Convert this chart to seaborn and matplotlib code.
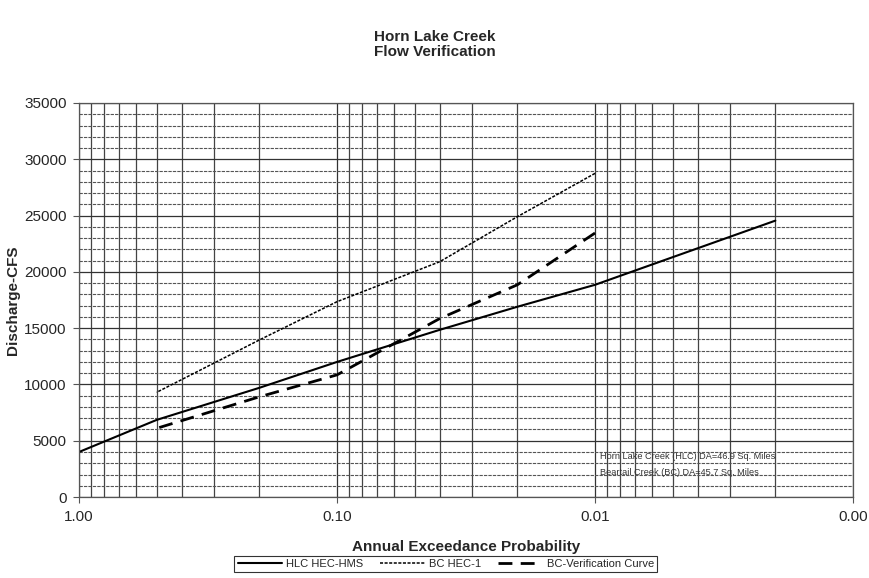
import numpy as np
import seaborn as sns
import matplotlib.pyplot as plt
import pandas as pd
from matplotlib.ticker import LogLocator, FuncFormatter, MultipleLocator

# annual exceedance probabilities
hlc_prob = [1.0, 0.5, 0.2, 0.1, 0.04, 0.02, 0.01, 0.002]
hlc_cfs = [4000, 6850, 9700, 12000, 14850, 16900, 18850, 24550]

bc_prob = [0.5, 0.2, 0.1, 0.04, 0.02, 0.01]
bc_hec1_cfs = [9300, 13950, 17350, 20900, 24900, 28750]
bc_verif_cfs = [6100, 8900, 10850, 15850, 18850, 23450]

hlc = pd.DataFrame({'prob': hlc_prob, 'cfs': hlc_cfs})
bc1 = pd.DataFrame({'prob': bc_prob, 'cfs': bc_hec1_cfs})
bcv = pd.DataFrame({'prob': bc_prob, 'cfs': bc_verif_cfs})

sns.set_style("white")
plt.rcParams['font.family'] = ['Liberation Sans', 'DejaVu Sans']

fig = plt.figure(figsize=(8.69, 5.78), dpi=100)
ax = fig.add_axes([0.0909, 0.1401, 0.8907, 0.6817])

sns.lineplot(x='prob', y='cfs', data=hlc, ax=ax, color='black', lw=1.5, label='HLC HEC-HMS')
sns.lineplot(x='prob', y='cfs', data=bc1, ax=ax, color='black', lw=1.1, dashes=False, label='BC HEC-1')
ax.lines[-1].set_dashes((2, 1))
sns.lineplot(x='prob', y='cfs', data=bcv, ax=ax, color='black', lw=2.0, label='BC-Verification Curve')
ax.lines[-1].set_dashes((5, 3))

ax.set_xscale('log')
ax.set_xlim(1.0, 0.001)
ax.set_ylim(0, 35000)
ax.xaxis.set_major_locator(LogLocator(base=10, numticks=10))
ax.xaxis.set_minor_locator(LogLocator(base=10, subs=np.arange(2, 10), numticks=20))
ax.xaxis.set_major_formatter(FuncFormatter(lambda v, p: '%.2f' % v))
ax.xaxis.set_minor_formatter(FuncFormatter(lambda v, p: ''))
ax.yaxis.set_major_locator(MultipleLocator(5000))
ax.yaxis.set_minor_locator(MultipleLocator(1000))

ax.grid(which='major', axis='both', color='#333333', lw=0.9, ls='-')
ax.grid(which='minor', axis='x', color='#444444', lw=0.9, ls='-')
ax.grid(which='minor', axis='y', color='#555555', lw=0.8, ls=(0, (3, 1)))
ax.set_axisbelow(True)

for s in ax.spines.values():
    s.set_color('#555555')
    s.set_linewidth(0.9)
ax.tick_params(axis='both', which='major', direction='out', length=4, width=0.8,
               color='#555555', labelsize=11, pad=5, bottom=True, left=True)
ax.tick_params(axis='both', which='minor', length=0)

ax.set_xlabel('Annual Exceedance Probability', fontsize=11, fontweight='bold')
ax.xaxis.set_label_coords(0.5, -0.108)
ax.set_ylabel('Discharge-CFS', fontsize=11, fontweight='bold')
ax.yaxis.set_label_coords(-0.076, 0.5)
fig.suptitle('Horn Lake Creek\nFlow Verification', x=0.5, y=0.948, fontsize=11,
             fontweight='bold', linespacing=1.1)

ax.text(0.00955, 3640, 'Horn Lake Creek (HLC) DA=46.9 Sq. Miles', fontsize=6.6,
        color='#333333', va='center')
ax.text(0.00955, 2220, 'Beartail Creek (BC) DA=45.7 Sq. Miles', fontsize=6.6,
        color='#333333', va='center')

ax.get_legend().remove()
h, l = ax.get_legend_handles_labels()
leg = fig.legend(h, l, loc='lower center', bbox_to_anchor=(0.513, 0.0), ncol=3, fontsize=8,
                 frameon=True, fancybox=False, edgecolor='black', handlelength=4,
                 columnspacing=1.5, borderpad=0.3, handletextpad=0.4)
leg.get_frame().set_linewidth(0.8)

fig.savefig('out.png', dpi=100)
